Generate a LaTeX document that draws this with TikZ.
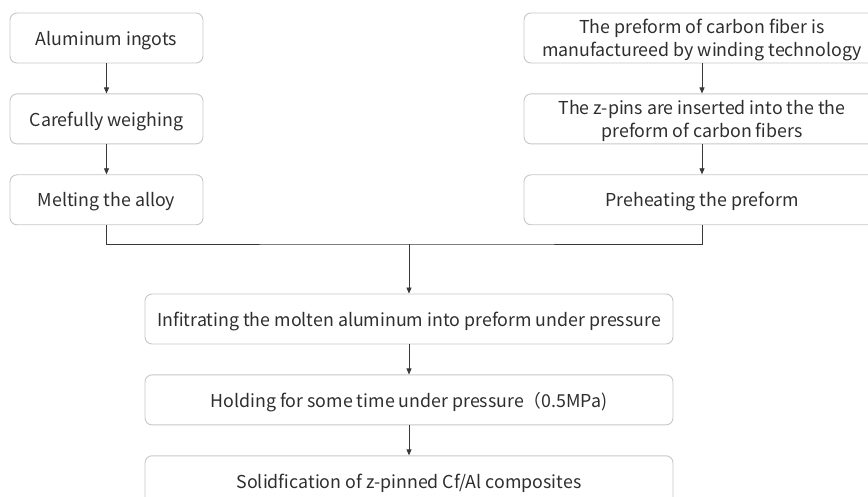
\documentclass[tikz,border=0pt]{standalone}
\usepackage{fontspec}
\setmainfont{Noto Sans CJK SC}
\usetikzlibrary{arrows.meta,positioning}
\colorlet{cbox}{black!22}
\colorlet{ctext}{black!82}
\colorlet{cline}{black!78}

\begin{document}
\begin{tikzpicture}[x=1pt,y=-1pt,
  stepbox/.style={draw=cbox, line width=0.9pt, rounded corners=7pt, minimum height=50pt,
    text=ctext, font=\fontsize{17.8}{23.5}\selectfont, align=center, inner sep=2pt,
    text depth=0pt},
  flow/.style={draw=cline, line width=0.8pt, -{Triangle[length=6pt,width=5pt]}},
  mergeline/.style={draw=cline, line width=0.8pt},
  node distance=30pt]
\clip (0,0) rectangle (868,497);
% left column
\node[stepbox, minimum width=193pt] (ingot) at (106.5,38) {Aluminum ingots};
\node[stepbox, minimum width=193pt, below=of ingot] (weigh) {Carefully weighing};
\node[stepbox, minimum width=193pt, below=of weigh] (melt) {Melting the alloy};
% right column
\node[stepbox, minimum width=356pt] (preform) at (702,38) {The preform of carbon fiber is\\manufactureed by winding technology};
\node[stepbox, minimum width=356pt, below=of preform] (pins) {The z-pins are inserted into the the\\preform of carbon fibers};
\node[stepbox, minimum width=356pt, below=of pins] (heat) {Preheating the preform};
% common steps
\node[stepbox, minimum width=528pt] (infil) at (409,319) {Infitrating the molten aluminum into preform under pressure};
\node[stepbox, minimum width=528pt, below=of infil] (hold) {Holding for some time under pressure（0.5MPa)};
\node[stepbox, minimum width=528pt, below=of hold] (solid) {Solidfication of z-pinned Cf/Al composites};
\coordinate (merge) at (409,244);

\draw[flow] (ingot) -- (weigh);
\draw[flow] (weigh) -- (melt);
\draw[flow] (preform) -- (pins);
\draw[flow] (pins) -- (heat);
\draw[mergeline] (melt.south) |- (merge) -| (heat.south);
\draw[flow] (merge) -- (infil);
\draw[flow] (infil) -- (hold);
\draw[flow] (hold) -- (solid);
\end{tikzpicture}
\end{document}
